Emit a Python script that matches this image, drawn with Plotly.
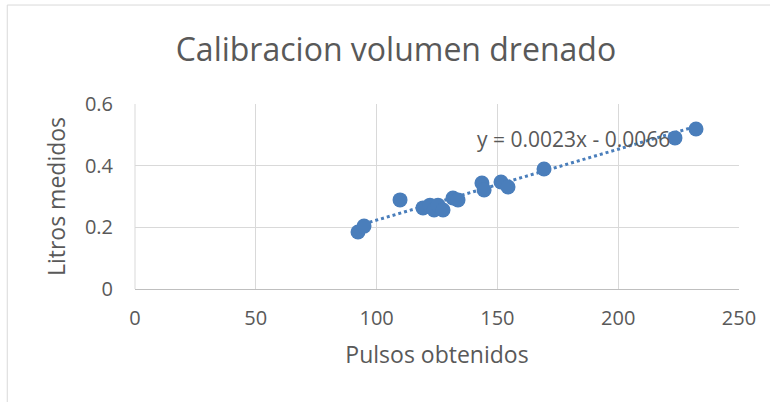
import plotly.graph_objects as go

# Calibration readings: pulses counted vs. litres measured
pulsos = [92.3, 94.8, 109.7, 119.2, 122.1, 123.8, 125.4, 127.5, 131.6, 133.7,
          143.6, 144.5, 151.5, 154.4, 169.3, 223.5, 232.2]
litros = [0.185, 0.204, 0.289, 0.263, 0.272, 0.256, 0.272, 0.256, 0.295, 0.289,
          0.344, 0.321, 0.347, 0.331, 0.389, 0.490, 0.519]

# Linear fit coefficients shown in the equation label
pendiente = 0.0023
intercepto = -0.0066

x_ticks = [0, 50, 100, 150, 200, 250]
y_ticks = [0, 0.2, 0.4, 0.6]

azul = "#4A7EBB"
gris_texto = "#595959"
gris_rejilla = "#D9D9D9"
fuente = "Open Sans, Liberation Sans, sans-serif"

x_fit = [min(pulsos), max(pulsos)]
y_fit = [pendiente * v + intercepto for v in x_fit]

fig = go.Figure()
fig.add_trace(go.Scatter(
    x=x_fit, y=y_fit, mode="lines",
    line=dict(color=azul, width=3, dash="dot"),
    hoverinfo="skip", showlegend=False,
))
fig.add_trace(go.Scatter(
    x=pulsos, y=litros, mode="markers",
    marker=dict(color=azul, size=15, line=dict(width=0)),
    showlegend=False,
))

fig.add_annotation(
    x=181.7, y=0.485, xref="x", yref="y",
    text=f"y = {pendiente}x - {abs(intercepto)}",
    showarrow=False, font=dict(family=fuente, size=21, color=gris_texto),
)

# outer chart border
fig.add_shape(type="rect", xref="paper", yref="paper",
              x0=-0.2115, y0=1.535, x1=1.07, y1=-0.66,
              line=dict(color="#D9D9D9", width=1), layer="below")

fig.update_layout(
    width=770, height=402,
    margin=dict(l=135, r=31, t=104, b=113),
    paper_bgcolor="white", plot_bgcolor="white",
    font=dict(family=fuente, color=gris_texto),
    title=dict(text="Calibracion volumen drenado",
               x=0.432, xanchor="center", xref="paper",
               y=0.875, yanchor="middle",
               font=dict(family=fuente, size=32, color=gris_texto)),
    xaxis=dict(
        range=[0, 250], tickvals=x_ticks,
        showgrid=True, gridcolor=gris_rejilla, gridwidth=1,
        zeroline=False, showline=True, linecolor="#BFBFBF", linewidth=1,
        mirror=False, ticks="", ticklabelstandoff=11,
        tickfont=dict(family=fuente, size=20, color=gris_texto),
        title=dict(text="Pulsos obtenidos", standoff=16,
                   font=dict(family=fuente, size=23, color=gris_texto)),
    ),
    yaxis=dict(
        range=[0, 0.6], tickvals=y_ticks, ticktext=["0", "0.2", "0.4", "0.6"],
        showgrid=True, gridcolor=gris_rejilla, gridwidth=1,
        zeroline=False, showline=False, ticks="", ticklabelstandoff=21,
        tickfont=dict(family=fuente, size=20, color=gris_texto),
        title=dict(text="Litros medidos", standoff=12,
                   font=dict(family=fuente, size=23, color=gris_texto)),
    ),
)

# left border of the plot area drawn like a gridline
fig.add_shape(type="line", xref="paper", yref="paper", x0=0, x1=0, y0=0, y1=1,
              line=dict(color=gris_rejilla, width=1), layer="below")

fig.write_html("out.html")
